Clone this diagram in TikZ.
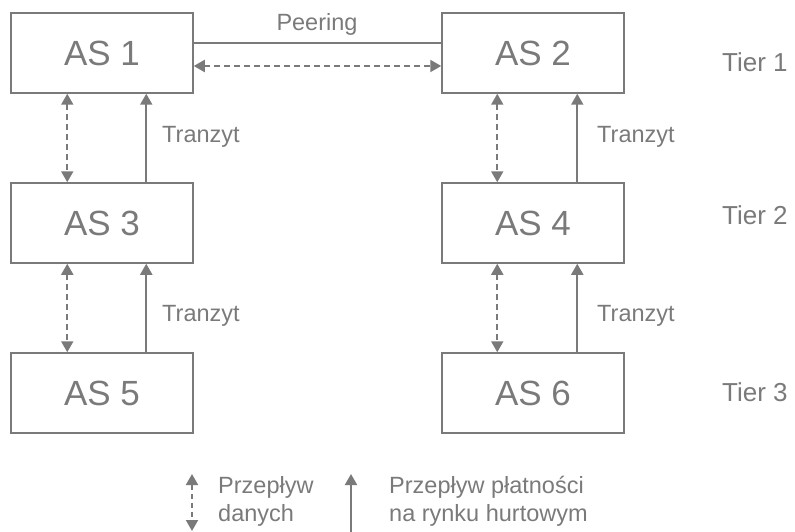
\documentclass[tikz,border=0pt]{standalone}
\usepackage{fontspec}
\setmainfont{Liberation Sans}
\usetikzlibrary{arrows.meta}
\definecolor{ink}{HTML}{7A7A7A}
\begin{document}
\begin{tikzpicture}[x=1pt,y=1pt,
  asbox/.style={draw=ink,line width=1.5pt,minimum width=182pt,minimum height=80pt,inner sep=0pt,text=ink,font=\fontsize{35}{40}\selectfont},
  lbl/.style={text=ink,inner sep=0pt,font=\fontsize{23.5}{28}\selectfont},
  tierlbl/.style={text=ink,inner sep=0pt,font=\fontsize{26}{30}\selectfont},
  dataflow/.style={draw=ink,line width=2pt,dash pattern=on 6pt off 4pt,{Triangle[width=12pt,length=11pt]}-{Triangle[width=12pt,length=11pt]}},
  payflow/.style={draw=ink,line width=2pt,-{Triangle[width=12pt,length=11pt]}},
  plainline/.style={draw=ink,line width=2pt}]
\useasboundingbox (0,0) rectangle (795,-532);
\node[asbox] (as1) at (102,-53) {AS 1};
\node[asbox] (as2) at (533,-53) {AS 2};
\node[asbox] (as3) at (102,-223) {AS 3};
\node[asbox] (as4) at (533,-223) {AS 4};
\node[asbox] (as5) at (102,-393) {AS 5};
\node[asbox] (as6) at (533,-393) {AS 6};
% peering
\draw[plainline] ([yshift=10pt]as1.east) -- ([yshift=10pt]as2.west);
\draw[dataflow] ([yshift=-13pt]as1.east) -- ([yshift=-13pt]as2.west);
\node[lbl] (peer) at (317,-24) {Peering};
% vertical links
\draw[dataflow] ([xshift=57pt]as1.south west) -- ([xshift=57pt]as3.north west);
\draw[payflow] ([xshift=136pt]as3.north west) -- ([xshift=136pt]as1.south west);
\draw[dataflow] ([xshift=57pt]as3.south west) -- ([xshift=57pt]as5.north west);
\draw[payflow] ([xshift=136pt]as5.north west) -- ([xshift=136pt]as3.south west);
\draw[dataflow] ([xshift=56pt]as2.south west) -- ([xshift=56pt]as4.north west);
\draw[payflow] ([xshift=136pt]as4.north west) -- ([xshift=136pt]as2.south west);
\draw[dataflow] ([xshift=56pt]as4.south west) -- ([xshift=56pt]as6.north west);
\draw[payflow] ([xshift=136pt]as6.north west) -- ([xshift=136pt]as4.south west);
% transit labels
\node[lbl,anchor=west] (t1) at (162,-137) {Tranzyt};
\node[lbl,anchor=west] (t2) at (597,-137) {Tranzyt};
\node[lbl,anchor=west] (t3) at (162,-316) {Tranzyt};
\node[lbl,anchor=west] (t4) at (597,-316) {Tranzyt};
% tiers
\node[tierlbl,anchor=west] (tier1) at (722,-62) {Tier 1};
\node[tierlbl,anchor=west] (tier2) at (722,-215) {Tier 2};
\node[tierlbl,anchor=west] (tier3) at (722,-392) {Tier 3};
% legend
\coordinate (ld1) at (192,-474);
\coordinate (ld2) at (192,-531);
\coordinate (lp1) at (351,-474);
\coordinate (lp2) at (351,-532);
\draw[dataflow,dash pattern=on 5pt off 4pt] (ld1) -- (ld2);
\draw[payflow] (lp2) -- (lp1);
\node[lbl,anchor=west,align=left] (leg1) at (218,-501) {Przepływ\\danych};
\node[lbl,anchor=west,align=left] (leg2) at (389,-501) {Przepływ płatności\\na rynku hurtowym};
\end{tikzpicture}
\end{document}
